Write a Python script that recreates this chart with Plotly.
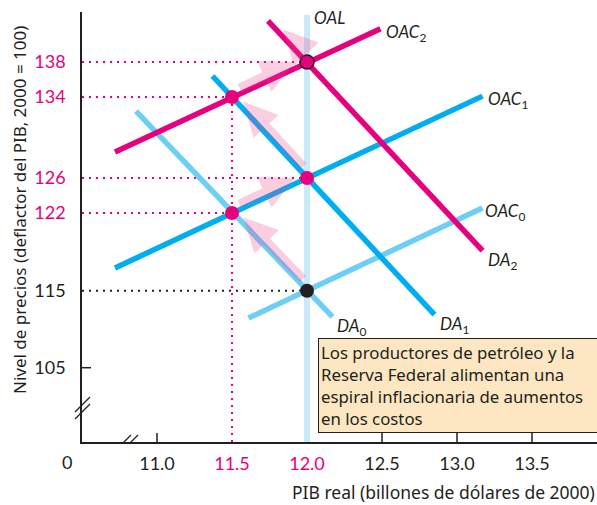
import numpy as np
import plotly.graph_objects as go

# ---------------- data ----------------
gdp_ticks = [11.0, 11.5, 12.0, 12.5, 13.0, 13.5]
price_ticks = [105, 115, 122, 126, 134, 138]
highlight_gdp = [11.5, 12.0]
highlight_price = [122, 126, 134, 138]

# curves: x endpoints, price endpoints
oac0_x = [11.61, 13.17]; oac0_p = [111.45, 122.57]
oac1_x = [10.72, 13.17]; oac1_p = [117.05, 134.1]
oac2_x = [10.72, 12.49]; oac2_p = [128.57, 141.8]
da0_x = [10.86, 12.17];  da0_p = [132.6, 111.6]
da1_x = [11.37, 12.85];  da1_p = [136.4, 111.9]
da2_x = [11.74, 13.17];  da2_p = [142.7, 118.6]
oal_x = [12.0, 12.0];    oal_p = [100.0, 143.4]

# equilibrium path
eq_x = [12.0, 11.5, 12.0, 11.5, 12.0]
eq_p = [115, 122, 126, 134, 138]
eq_kind = ["start", "mid", "mid", "mid", "end"]

box_text = ("Los productores de petróleo y la<br>Reserva Federal alimentan una<br>"
            "espiral inflacionaria de aumentos<br>en los costos")

# ---------------- styling / layout helpers ----------------
MAG = "#e6007e"
BLUE = "#00aeef"
LBLUE = "#6dcff6"
OALC = "#c9eaf8"
INK = "#231f20"
PINK = "rgba(236,70,140,0.26)"
FONT = "Lato, 'Noto Sans', sans-serif"
FONT2 = "'Noto Sans', sans-serif"

W, H = 597, 505
ML, MR, MT, MB = 82, 0, 12, 63
PW, PH = W - ML - MR, H - MT - MB
X0 = 10.5
XPX = 150.0  # px per unit
X1 = X0 + PW / XPX

# broken / stylised price axis: anchor prices -> vertical position (px above x axis)
anchor_p = [100, 105, 115, 122, 126, 134, 138, 146]
anchor_h = [0, 74.3, 151.3, 229, 264, 345, 380, 450]


def ymap(p):
    return np.interp(np.asarray(p, dtype=float), anchor_p, anchor_h)


fig = go.Figure()


def add_line(xs, ps, color, width=5.5):
    fig.add_trace(go.Scatter(x=xs, y=ymap(ps), mode="lines",
                             line=dict(color=color, width=width),
                             hoverinfo="skip", showlegend=False))


# dotted guide lines
for xv, pv in zip(eq_x, eq_p):
    col = INK if pv == 115 else MAG
    fig.add_trace(go.Scatter(x=[X0, xv], y=ymap([pv, pv]), mode="lines",
                             line=dict(color=col, width=2, dash="2px,5px"),
                             hoverinfo="skip", showlegend=False))
fig.add_trace(go.Scatter(x=[11.5, 11.5], y=ymap([134, 100]), mode="lines",
                         line=dict(color=MAG, width=2, dash="2px,5px"),
                         hoverinfo="skip", showlegend=False))

add_line(oal_x, oal_p, OALC, 6)
add_line(oac0_x, oac0_p, LBLUE)
add_line(da0_x, da0_p, LBLUE)
add_line(oac1_x, oac1_p, BLUE)
add_line(da1_x, da1_p, BLUE)
add_line(oac2_x, oac2_p, MAG)
add_line(da2_x, da2_p, MAG)

# equilibrium dots
for xv, pv, k in zip(eq_x, eq_p, eq_kind):
    if k == "start":
        mk = dict(color=INK, size=14, line=dict(width=0))
    elif k == "end":
        mk = dict(color=MAG, size=14, line=dict(color=INK, width=1.5))
    else:
        mk = dict(color=MAG, size=14, line=dict(width=0))
    fig.add_trace(go.Scatter(x=[xv], y=ymap([pv]), mode="markers", marker=mk,
                             hoverinfo="skip", showlegend=False))

# pink spiral arrows (computed in pixel space from equilibrium points)
def to_px(xv, pv):
    return np.array([(xv - X0) * XPX, float(ymap(pv))])


def from_px(v):
    return X0 + v[0] / XPX, v[1]


pts = [to_px(x, p) for x, p in zip(eq_x, eq_p)]
d2 = to_px(da2_x[0], da2_p[0]) - pts[-1]
pts_ext = pts + [pts[-1] + d2 / np.linalg.norm(d2) * 40]
for i in range(len(pts_ext) - 1):
    P, Q = pts_ext[i], pts_ext[i + 1]
    d = Q - P
    L = np.linalg.norm(d)
    u = d / L
    n = np.array([-u[1], u[0]])
    if n[1] < 0:
        n = -n
    off = 5.0
    last = i == len(pts_ext) - 2
    tail = P + u * (5 if last else 9) + n * off
    tip = Q - u * (0 if last else 11) + n * off
    tx, ty = from_px(tip)
    ax_, ay_ = from_px(tail)
    fig.add_annotation(x=tx, y=ty, ax=ax_, ay=ay_, xref="x", yref="y",
                       axref="x", ayref="y", text="", showarrow=True,
                       arrowhead=2, arrowsize=0.75, arrowwidth=9,
                       arrowcolor=PINK)

# curve labels
lab_font = dict(family=FONT, size=17, color=INK)


def label(txt, xv, pv, dx, dy):
    fig.add_annotation(x=xv, y=float(ymap(pv)), xref="x", yref="y", text=txt,
                       showarrow=False, xanchor="left", yanchor="middle",
                       xshift=dx, yshift=dy, font=lab_font)


label("<i>OAL</i>", oal_x[1], oal_p[1], 5, -3)
label("<i>OAC</i><sub>2</sub>", oac2_x[1], oac2_p[1], 3, -4)
label("<i>OAC</i><sub>1</sub>", oac1_x[1], oac1_p[1], 3, -4)
label("<i>OAC</i><sub>0</sub>", oac0_x[1], oac0_p[1], 0, -4)
label("<i>DA</i><sub>2</sub>", da2_x[1], da2_p[1], 3, -10)
label("<i>DA</i><sub>0</sub>", da0_x[1], da0_p[1], 2, -10)
label("<i>DA</i><sub>1</sub>", da1_x[1], da1_p[1], 3, -10)

# explanation box
fig.add_annotation(x=(318 - ML) / PW, y=(PH - (338 - MT)) / PH, xref="paper",
                   yref="paper", xanchor="left", yanchor="top", align="left",
                   text=box_text, showarrow=False, bgcolor="#fde6c2",
                   bordercolor=INK, borderwidth=1, borderpad=2, width=280,
                   font=dict(family=FONT2, size=16.8, color=INK))

# zero label and axis titles
fig.add_annotation(x=(67 - ML) / PW, y=0, xref="paper", yref="paper",
                   xanchor="center", yanchor="middle",
                   text="0", showarrow=False, yshift=-20,
                   font=dict(family=FONT, size=18, color=INK))
fig.add_annotation(x=1, y=0, xref="paper", yref="paper", xanchor="right",
                   yanchor="middle", yshift=-50,
                   text="PIB real (billones de dólares de 2000)", showarrow=False,
                   font=dict(family=FONT2, size=17.5, color=INK))
fig.add_annotation(x=(20 - ML) / PW, y=(PH - (210 - MT)) / PH, xref="paper",
                   yref="paper", textangle=-90, xanchor="center",
                   yanchor="middle",
                   text="Nivel de precios (deflactor del PIB, 2000 = 100)",
                   showarrow=False, font=dict(family=FONT2, size=17, color=INK))

# tick marks (only some ticks have marks)
for xv in gdp_ticks:
    if xv not in highlight_gdp:
        fig.add_shape(type="line", x0=xv, x1=xv, y0=0, y1=9, xref="x", yref="y",
                      line=dict(color=INK, width=1.5))
for pv in price_ticks:
    if pv == 105:
        fig.add_shape(type="line", x0=0, x1=9 / PW, y0=float(ymap(pv)),
                      y1=float(ymap(pv)), xref="paper", yref="y",
                      line=dict(color=INK, width=1.5))

# axis break marks
for k in (0, 7):
    fig.add_shape(type="line", xref="paper", yref="y",
                  x0=-7 / PW, x1=8 / PW, y0=30 - k, y1=45 - k,
                  line=dict(color=INK, width=1.3))
    fig.add_shape(type="line", xref="x", yref="y",
                  x0=X0 + (36 + k) / XPX, x1=X0 + (49 + k) / XPX, y0=-6, y1=7,
                  line=dict(color=INK, width=1.3))


def tick_txt(v, hl, fmt):
    s = fmt.format(v)
    return f"<span style='color:{MAG}'>{s}</span>" if v in hl else s


fig.update_layout(
    width=W, height=H, margin=dict(l=ML, r=MR, t=MT, b=MB, autoexpand=False),
    paper_bgcolor="white", plot_bgcolor="white",
    font=dict(family=FONT, color=INK),
    xaxis=dict(range=[X0, X1], showgrid=False, zeroline=False, showline=True,
               linecolor=INK, linewidth=1.5, ticks="outside", ticklen=5,
               tickcolor="rgba(0,0,0,0)", tickvals=gdp_ticks,
               ticktext=[tick_txt(v, highlight_gdp, "{:.1f}") for v in gdp_ticks],
               tickfont=dict(family=FONT, size=18, color=INK),
               fixedrange=True, automargin=False),
    yaxis=dict(range=[0, PH], showgrid=False, zeroline=False, showline=True,
               linecolor=INK, linewidth=1.5, ticks="outside", ticklen=11,
               tickcolor="rgba(0,0,0,0)",
               tickvals=list(ymap(price_ticks)),
               ticktext=[tick_txt(v, highlight_price, "{}") for v in price_ticks],
               tickfont=dict(family=FONT, size=18, color=INK),
               fixedrange=True, automargin=False),
    showlegend=False,
)

fig.write_html("out.html", config={"displayModeBar": False},
               post_script="document.body.style.margin='0';document.body.style.overflow='hidden';")
